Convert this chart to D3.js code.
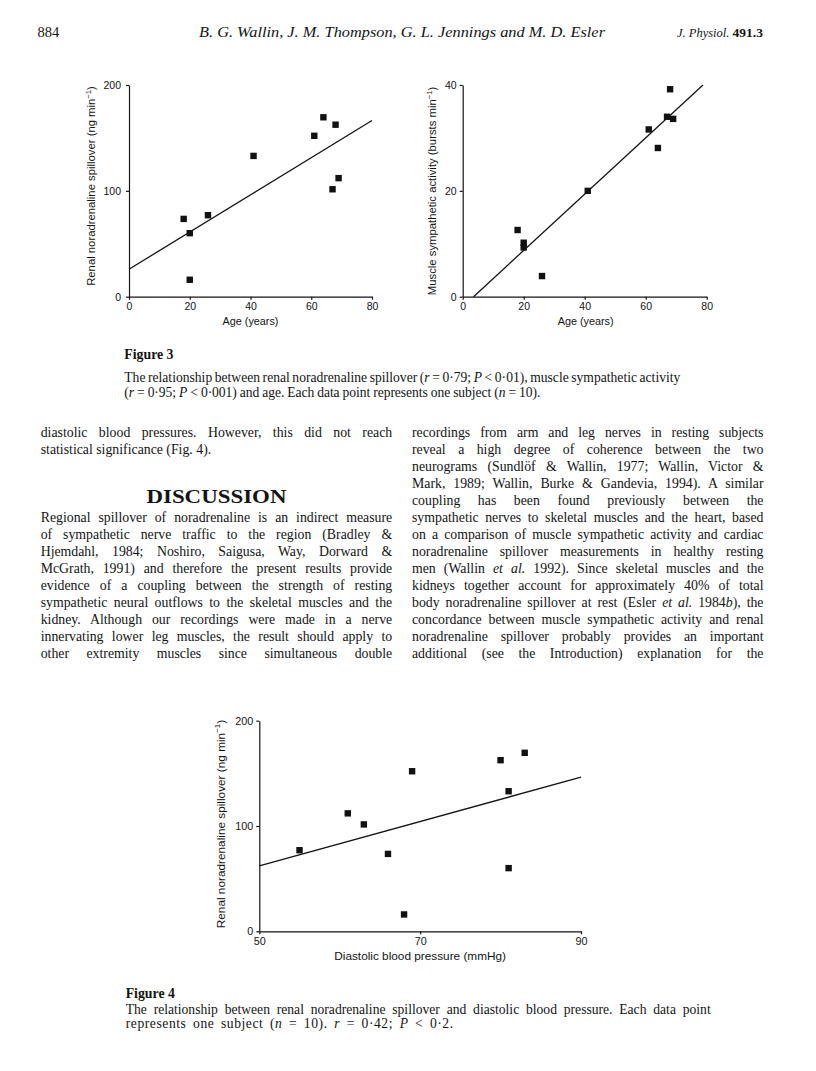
<!DOCTYPE html>
<meta charset="utf-8">
<style>
body { margin: 0; background: #fff; }
svg text { fill: #141414; }
.serif { font-family: "Liberation Serif", serif; }
.sans { font-family: "Liberation Sans", Arial, sans-serif; }
.axis path, .axis line { stroke: #141414; stroke-width: 1.2px; }
.fit { stroke: #141414; stroke-width: 1.3px; fill: none; }
</style>
<svg width="816" height="1071"></svg>
<script src="https://d3js.org/d3.v7.min.js"></script>
<script>
// one entry per subject (n = 10)
var age        = [18, 20, 20, 26, 41, 61, 64, 67, 68, 69];
var renalSpill = [73.5, 60, 16, 77, 133, 152, 169.5, 101.5, 162.5, 112];
var msna       = [12.6, 9.3, 10.2, 3.9, 20.0, 31.6, 28.1, 34.0, 39.2, 33.6];
var diastolic  = [66, 81, 68, 55, 81, 69, 83, 63, 80, 61];

var ageTicks = [0, 20, 40, 60, 80];
var spillTicks = [0, 100, 200];
var msnaTicks = [0, 20, 40];
var dbpTicks = [50, 70, 90];

var leftCol = [
  "diastolic blood pressures. However, this did not reach",
  "statistical significance (Fig. 4)."
];
var leftPara = [
  "Regional spillover of noradrenaline is an indirect measure",
  "of sympathetic nerve traffic to the region (Bradley &",
  "Hjemdahl, 1984; Noshiro, Saigusa, Way, Dorward &",
  "McGrath, 1991) and therefore the present results provide",
  "evidence of a coupling between the strength of resting",
  "sympathetic neural outflows to the skeletal muscles and the",
  "kidney. Although our recordings were made in a nerve",
  "innervating lower leg muscles, the result should apply to",
  "other extremity muscles since simultaneous double"
];
var rightCol = [
  "recordings from arm and leg nerves in resting subjects",
  "reveal a high degree of coherence between the two",
  "neurograms (Sundlöf & Wallin, 1977; Wallin, Victor &",
  "Mark, 1989; Wallin, Burke & Gandevia, 1994). A similar",
  "coupling has been found previously between the",
  "sympathetic nerves to skeletal muscles and the heart, based",
  "on a comparison of muscle sympathetic activity and cardiac",
  "noradrenaline spillover measurements in healthy resting",
  "men (Wallin *et al.* 1992). Since skeletal muscles and the",
  "kidneys together account for approximately 40% of total",
  "body noradrenaline spillover at rest (Esler *et al.* 1984*b*), the",
  "concordance between muscle sympathetic activity and renal",
  "noradrenaline spillover probably provides an important",
  "additional (see the Introduction) explanation for the"
];
var fig3Caption = [
  "The relationship between renal noradrenaline spillover (*r* = 0\u00b779; *P* < 0\u00b701), muscle sympathetic activity",
  "(*r* = 0\u00b795; *P* < 0\u00b7001) and age. Each data point represents one subject (*n* = 10)."
];
var fig4Caption = [
  "The relationship between renal noradrenaline spillover and diastolic blood pressure. Each data point",
  "represents one subject (*n* = 10). *r* = 0\u00b742; *P* < 0\u00b72."
];

var svg = d3.select("svg");

// write one line of text; *...* is italic; if width given, widen the spaces to fill it
// (loose lines share the extra room between letters and spaces)
function textLine(str, x, y, size, width, weight, loose) {
  var t = svg.append("text").attr("class", "serif")
      .attr("x", x).attr("y", y)
      .style("font-size", size + "px");
  if (weight) t.style("font-weight", weight);
  str.split("*").forEach(function(s, i) {
    if (s) t.append("tspan").style("font-style", i % 2 ? "italic" : null).text(s);
  });
  if (width) {
    var w = t.node().getComputedTextLength();
    var plain = str.replace(/\*/g, "");
    var n = (plain.match(/ /g) || []).length;
    var extra = width - w;
    if (loose) {
      t.style("letter-spacing", (extra * 0.5 / plain.length) + "px");
      extra = extra * 0.5;
    }
    if (n) t.style("word-spacing", (extra / n) + "px");
  }
  return t;
}

// least squares fit
function fit(xs, ys) {
  var mx = d3.mean(xs), my = d3.mean(ys);
  var sxy = d3.sum(xs, function(d, i) { return (d - mx) * (ys[i] - my); });
  var sxx = d3.sum(xs, function(d) { return (d - mx) * (d - mx); });
  var b = sxy / sxx;
  return { a: my - b * mx, b: b };
}

function scatter(o) {
  var x = d3.scaleLinear().domain(o.xDomain).range([o.left, o.right]);
  var y = d3.scaleLinear().domain(o.yDomain).range([o.bottom, o.top]);
  var g = svg.append("g");

  g.append("g").attr("class", "axis sans")
      .attr("transform", "translate(0," + o.bottom + ")")
      .call(d3.axisBottom(x).tickValues(o.xTicks).tickSize(3).tickSizeOuter(0).tickPadding(3))
      .call(function(a) { a.selectAll("text").style("font-size", o.tick + "px").attr("fill", "#141414"); });

  g.append("g").attr("class", "axis sans")
      .attr("transform", "translate(" + o.left + ",0)")
      .call(d3.axisLeft(y).tickValues(o.yTicks).tickSize(3).tickSizeOuter(0).tickPadding(o.ypad))
      .call(function(a) { a.selectAll("text").style("font-size", o.tick + "px").attr("fill", "#141414"); });

  // regression line, kept inside the frame
  var f = fit(o.xs, o.ys);
  var xa = Math.max(o.xDomain[0], (o.yDomain[0] - f.a) / f.b);
  var xb = Math.min(o.xDomain[1], (o.yDomain[1] - f.a) / f.b);
  g.append("line").attr("class", "fit")
      .attr("x1", x(xa)).attr("y1", y(f.a + f.b * xa))
      .attr("x2", x(xb)).attr("y2", y(f.a + f.b * xb));

  g.selectAll("rect.pt").data(o.xs).enter().append("rect")
      .attr("class", "pt")
      .attr("x", function(d) { return x(d) - 3.2; })
      .attr("y", function(d, i) { return y(o.ys[i]) - 3.2; })
      .attr("width", 6.4).attr("height", 6.4)
      .attr("fill", "#111");

  g.append("text").attr("class", "sans")
      .attr("x", (o.left + o.right) / 2 + o.xtDx).attr("y", o.xtY)
      .attr("text-anchor", "middle")
      .style("font-size", o.xtSize + "px")
      .text(o.xTitle);

  var yt = g.append("text").attr("class", "sans")
      .attr("transform", "translate(" + o.ytX + "," + o.ytY + ") rotate(-90)")
      .attr("text-anchor", "middle")
      .style("font-size", o.ytSize + "px");
  yt.append("tspan").text(o.yTitle + " min");
  yt.append("tspan").attr("dy", -4.5).style("font-size", (o.ytSize * 0.68) + "px").text("\u22121");
  yt.append("tspan").attr("dy", 4.5).text(")");
}

// page header
textLine("884", 37.5, 37, 14.5);
svg.append("text").attr("class", "serif")
    .attr("x", 199).attr("y", 37)
    .attr("textLength", 406).attr("lengthAdjust", "spacingAndGlyphs")
    .style("font-size", "15px").style("font-style", "italic")
    .text("B. G. Wallin, J. M. Thompson, G. L. Jennings and M. D. Esler");
var hdr = svg.append("text").attr("class", "serif").attr("x", 677).attr("y", 37).style("font-size", "12.5px");
hdr.append("tspan").style("font-style", "italic").text("J. Physiol. ");
hdr.append("tspan").style("font-weight", "bold").style("font-size", "13.5px").text("491.3");

// Figure 3
scatter({
  xs: age, ys: renalSpill, xDomain: [0, 80], yDomain: [0, 200],
  xTicks: ageTicks, yTicks: spillTicks,
  left: 129, right: 372, top: 85, bottom: 296.7,
  tick: 10.5, ypad: 5,
  xTitle: "Age (years)", xtDx: 0, xtY: 325, xtSize: 10.8,
  yTitle: "Renal noradrenaline spillover (ng", ytX: 95, ytY: 186, ytSize: 11.3
});
scatter({
  xs: age, ys: msna, xDomain: [0, 80], yDomain: [0, 40],
  xTicks: ageTicks, yTicks: msnaTicks,
  left: 462.7, right: 706.7, top: 85, bottom: 296.7,
  tick: 10.5, ypad: 3,
  xTitle: "Age (years)", xtDx: 1, xtY: 325, xtSize: 10.8,
  yTitle: "Muscle sympathetic activity (bursts", ytX: 436, ytY: 191, ytSize: 11.3
});

var capSize = 13.6;
textLine("Figure 3", 124.3, 359, 13.8, null, "bold");
textLine(fig3Caption[0], 124.3, 382, capSize, 556);
textLine(fig3Caption[1], 124.3, 396.5, capSize, 416, null, true);

// body text
var colL = 40.7, colR = 412, colW = 351.5, lead = 17;
textLine(leftCol[0], colL, 437.3, 13.8, colW);
textLine(leftCol[1], colL, 437.3 + lead, 13.8, null);
svg.append("text").attr("class", "serif")
    .attr("x", colL + colW / 2).attr("y", 503)
    .attr("text-anchor", "middle")
    .attr("textLength", 140).attr("lengthAdjust", "spacingAndGlyphs")
    .style("font-size", "19.5px").style("font-weight", "bold")
    .text("DISCUSSION");
leftPara.forEach(function(s, i) { textLine(s, colL, 521.7 + i * lead, 13.8, colW); });
rightCol.forEach(function(s, i) { textLine(s, colR, 437.3 + i * lead, 13.8, colW); });

// Figure 4
scatter({
  xs: diastolic, ys: renalSpill, xDomain: [50, 90], yDomain: [0, 200],
  xTicks: dbpTicks, yTicks: spillTicks,
  left: 259.3, right: 581, top: 720.7, bottom: 931.3,
  tick: 10.8, ypad: 3,
  xTitle: "Diastolic blood pressure (mmHg)", xtDx: 0, xtY: 960, xtSize: 11.8,
  yTitle: "Renal noradrenaline spillover (ng", ytX: 224.5, ytY: 824, ytSize: 11.8
});

textLine("Figure 4", 125.7, 998, 13.8, null, "bold");
textLine(fig4Caption[0], 125.7, 1014, capSize, 585);
textLine(fig4Caption[1], 125.7, 1028, capSize, 328, null, true);
</script>
